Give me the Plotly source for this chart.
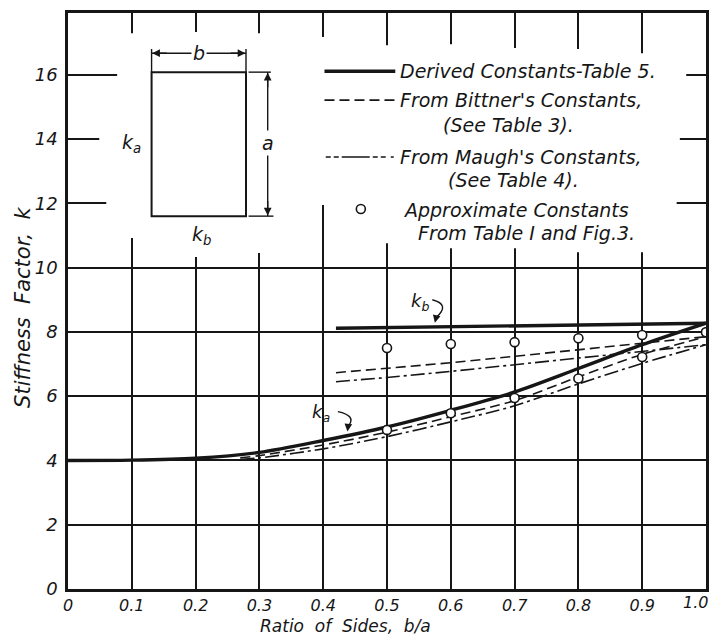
import plotly.graph_objects as go

# ---- data -------------------------------------------------------------
# k_a curves (derived constants), ratio of sides b/a
ratio_ka = [0.0, 0.1, 0.2, 0.3, 0.4, 0.5, 0.6, 0.7, 0.8, 0.9, 1.0]
ka_derived = [4.0, 4.01, 4.07, 4.25, 4.62, 5.04, 5.56, 6.13, 6.86, 7.6, 8.27]

# k_b curves
ratio_kb = [0.42, 0.5, 0.6, 0.7, 0.8, 0.9, 1.0]
kb_derived = [8.11, 8.13, 8.16, 8.18, 8.21, 8.24, 8.27]
kb_bittner = [6.73, 6.87, 7.04, 7.24, 7.44, 7.64, 7.85]
kb_maugh = [6.45, 6.58, 6.77, 6.98, 7.19, 7.4, 7.6]

# k_a from Bittner's and Maugh's constants
ratio_ka_alt = [0.27, 0.3, 0.4, 0.5, 0.6, 0.7, 0.8, 0.9, 1.0]
ka_bittner = [4.08, 4.15, 4.48, 4.88, 5.36, 5.86, 6.6, 7.3, 7.85]
ka_maugh = [4.03, 4.08, 4.36, 4.74, 5.2, 5.7, 6.38, 7.02, 7.6]

# approximate constants (Table 1 and Fig. 3)
ratio_approx = [0.5, 0.6, 0.7, 0.8, 0.9, 1.0]
ka_approx = [4.95, 5.47, 5.94, 6.55, 7.22, 7.99]
kb_approx = [7.5, 7.62, 7.68, 7.8, 7.9, 7.99]

x_tick_vals = [0.0, 0.1, 0.2, 0.3, 0.4, 0.5, 0.6, 0.7, 0.8, 0.9]
x_tick_text = ["0", "0.1", "0.2", "0.3", "0.4", "0.5", "0.6", "0.7", "0.8", "0.9"]
y_tick_vals = [0, 2, 4, 6, 8, 10, 12, 14, 16]
y_tick_text = ["0", "2", "4", "6", "8", "10", "12", "14", "16"]

# ---- styling ----------------------------------------------------------
INK = "#161616"
FONT = "DejaVu Sans"
DASH = "10px,5px"
DASHDOT = "14px,4px,3px,4px"

fig = go.Figure()

def curve(x, y, width, dash=None, smooth=True):
    fig.add_trace(go.Scatter(
        x=x, y=y, mode="lines",
        line=dict(color=INK, width=width, dash=dash,
                  shape="spline" if smooth else "linear", smoothing=0.8),
        hoverinfo="skip", showlegend=False))

curve(ratio_ka_alt, ka_maugh, 1.6, DASHDOT)
curve(ratio_ka_alt, ka_bittner, 1.6, DASH)
curve(ratio_kb, kb_maugh, 1.6, DASHDOT, smooth=False)
curve(ratio_kb, kb_bittner, 1.6, DASH, smooth=False)
curve(ratio_ka, ka_derived, 3.4)
curve(ratio_kb, kb_derived, 3.4, smooth=False)

for yvals in (ka_approx, kb_approx):
    fig.add_trace(go.Scatter(
        x=ratio_approx, y=yvals, mode="markers",
        marker=dict(symbol="circle", size=9, color="white",
                    line=dict(color=INK, width=1.6)),
        hoverinfo="skip", showlegend=False))

# ---- white panel behind the key and the sketch (hides the grid there) --
grid_x = [0.1, 0.2, 0.3, 0.4, 0.5, 0.6, 0.7, 0.8, 0.9]
grid_top_end = [17.29, 17.33, 17.29, 17.17, 16.92, 16.95, 16.83, 16.8, 16.67]
grid_bottom_start = [10.92, 10.33, 10.45, 11.95, 10.76, 10.6, 10.6, 10.48, 10.48]
TOP, BOT, W = 17.78, 10.17, 0.005
pts = [(0.06, BOT), (0.06, 13), (0.049, 13), (0.049, 15), (0.077, 15), (0.077, TOP)]
for v, e in zip(grid_x, grid_top_end):
    pts += [(v - W, TOP), (v - W, e), (v + W, e), (v + W, TOP)]
pts += [(0.969, TOP), (0.969, 15), (0.959, 15), (0.959, 13), (0.954, 13), (0.954, BOT)]
for v, s in zip(reversed(grid_x), reversed(grid_bottom_start)):
    pts += [(v + W, BOT), (v + W, s), (v - W, s), (v - W, BOT)]
path = "M " + " L ".join(f"{x},{y}" for x, y in pts) + " Z"
fig.add_shape(type="path", path=path, xref="x", yref="y",
              fillcolor="white", line=dict(width=0), layer="between")

def seg(x0, y0, x1, y1, width=1.6, dash=None):
    fig.add_shape(type="line", x0=x0, y0=y0, x1=x1, y1=y1, xref="x", yref="y",
                  line=dict(color=INK, width=width, dash=dash), layer="above")

def text(x, y, s, size=19, anchor="left", bg=None):
    fig.add_annotation(x=x, y=y, text=s, showarrow=False, xanchor=anchor,
                       yanchor="middle", bgcolor=bg, borderpad=1,
                       font=dict(family=FONT, size=size, color=INK, style="italic"))

def head(x, y, ax, ay):
    fig.add_annotation(x=x, y=y, ax=ax, ay=ay, text="", showarrow=True,
                       arrowhead=2, arrowsize=1.1, arrowwidth=1.4, arrowcolor=INK)

# ---- key --------------------------------------------------------------
seg(0.402, 16.11, 0.513, 16.11, width=3.4)
text(0.518, 16.11, "Derived Constants-Table 5.")
seg(0.402, 15.21, 0.513, 15.21, dash=DASH)
text(0.518, 15.21, "From Bittner's Constants,")
text(0.584, 14.43, "(See Table 3).")
seg(0.404, 13.44, 0.516, 13.44, dash="5px,3px,5px,3px,28px,3px,5px,3px,5px")
text(0.518, 13.44, "From Maugh's Constants,")
text(0.592, 12.72, "(See Table 4).")
fig.add_trace(go.Scatter(x=[0.459], y=[11.82], mode="markers",
                         marker=dict(symbol="circle", size=9, color="white",
                                     line=dict(color=INK, width=1.6)),
                         hoverinfo="skip", showlegend=False))
text(0.522, 11.79, "Approximate Constants")
text(0.545, 11.07, "From Table I and Fig.3.")

# ---- sketch of the panel ----------------------------------------------
fig.add_shape(type="rect", x0=0.131, x1=0.279, y0=11.6, y1=16.08, xref="x", yref="y",
              line=dict(color=INK, width=2), fillcolor="white", layer="above")
seg(0.131, 16.08, 0.131, 16.8, width=1.4)
seg(0.279, 16.08, 0.279, 16.8, width=1.4)
seg(0.131, 16.67, 0.279, 16.67, width=1.4)
head(0.132, 16.67, 16, 0)
head(0.278, 16.67, -16, 0)
text(0.205, 16.67, "b", size=19, anchor="center", bg="white")
seg(0.283, 16.08, 0.318, 16.08, width=1.4)
seg(0.283, 11.6, 0.322, 11.6, width=1.4)
seg(0.313, 16.08, 0.313, 11.6, width=1.4)
head(0.313, 16.06, 0, 16)
head(0.313, 11.62, 0, -16)
text(0.313, 13.87, "a", size=19, anchor="center", bg="white")
text(0.1, 13.87, "k<sub>a</sub>", size=19, anchor="center")
text(0.21, 11.0, "k<sub>b</sub>", size=19, anchor="center")

# ---- curve labels with hooked arrows ----------------------------------
text(0.552, 8.92, "k<sub>b</sub>", size=18, anchor="center")
fig.add_shape(type="path", path="M 0.571,9.0 Q 0.6,8.85 0.577,8.45",
              xref="x", yref="y", line=dict(color=INK, width=1.4), layer="above")
head(0.575, 8.28, 2, -8)
text(0.397, 5.47, "k<sub>a</sub>", size=18, anchor="center")
fig.add_shape(type="path", path="M 0.423,5.52 Q 0.452,5.4 0.44,5.08",
              xref="x", yref="y", line=dict(color=INK, width=1.4), layer="above")
head(0.438, 4.9, 1, -8)

# ---- axis titles and the end tick label --------------------------------
fig.add_annotation(x=1.0, y=0, xref="x", yref="paper", text="1.0", showarrow=False,
                   xanchor="right", yanchor="top", xshift=4, yshift=-2,
                   font=dict(family=FONT, size=16, color=INK, style="italic"))
fig.add_annotation(x=0.435, y=0, xref="x", yref="paper", text="Ratio  of  Sides,  b/a",
                   showarrow=False, xanchor="center", yanchor="middle", yshift=-37,
                   borderpad=0,
                   font=dict(family=FONT, size=17, color=INK, style="italic"))
fig.add_annotation(x=0, y=0.488, xref="paper", yref="paper", text="Stiffness  Factor,  k",
                   showarrow=False, textangle=-90, xanchor="center", yanchor="middle",
                   xshift=-45, font=dict(family=FONT, size=21, color=INK, style="italic"))

axis_common = dict(showline=True, mirror=True, linecolor=INK, linewidth=2.6,
                   showgrid=True, gridcolor=INK, gridwidth=1.7, zeroline=False,
                   ticks="", tickmode="array")

fig.update_layout(
    width=713, height=637,
    margin=dict(l=68, r=4, t=13, b=48),
    paper_bgcolor="white", plot_bgcolor="white",
    showlegend=False,
    xaxis=dict(range=[0, 1.0], tickvals=x_tick_vals, ticktext=x_tick_text,
               ticklabelstandoff=0,
               tickfont=dict(family=FONT, size=16, color=INK, style="italic"),
               **axis_common),
    yaxis=dict(range=[0, 17.92], tickvals=y_tick_vals, ticktext=y_tick_text,
               ticklabelstandoff=4,
               tickfont=dict(family=FONT, size=18, color=INK, style="italic"),
               **axis_common),
)

fig.write_html("out.html")
